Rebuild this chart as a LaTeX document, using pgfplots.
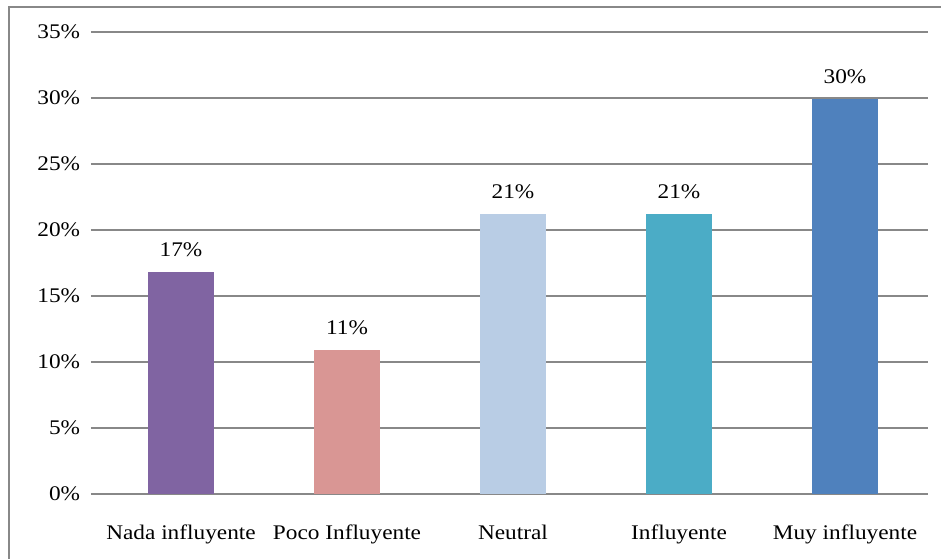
\documentclass[border=0pt]{standalone}
\usepackage{pgfplots}
\pgfplotsset{compat=1.18}
\usepackage{fontspec}
\setmainfont{Liberation Serif}[FakeStretch=1.12]

\definecolor{gridgray}{HTML}{888888}
\definecolor{cPurple}{HTML}{8064A2}
\definecolor{cPink}{HTML}{D99694}
\definecolor{cLight}{HTML}{B9CDE5}
\definecolor{cTeal}{HTML}{4BACC6}
\definecolor{cBlue}{HTML}{4F81BD}

\begin{document}
\begin{tikzpicture}
\fontsize{15.6pt}{18pt}\selectfont
\useasboundingbox (0,0) rectangle (705.75pt,419.25pt);
% frame of the chart area (left and top edges)
\draw[gridgray, line width=1.5pt] (7pt,-2pt) -- (7pt,413.8pt) -- (708pt,413.8pt);
\begin{axis}[
  at={(73.5pt,48.75pt)}, anchor=south west,
  scale only axis, width=622.5pt, height=346.5pt,
  ybar, bar width=49.5pt, bar shift=0pt,
  xmin=-0.5, xmax=4.5, ymin=0, ymax=35,
  axis x line*=bottom, axis y line*=left,
  x axis line style={gridgray, line width=0.9pt, -},
  y axis line style={draw=none},
  xtick={0,1,2,3,4},
  xticklabels={Nada influyente, Poco Influyente, Neutral, Influyente, Muy influyente},
  x tick style={draw=none},
  extra x ticks={0.5,1.5,2.5,3.5,4.5},
  extra x tick labels={},
  extra x tick style={tick align=outside, major tick length=5.25pt,
    tick style={draw=gridgray, line width=0.9pt}},
  xticklabel style={anchor=base, inner sep=0pt, yshift=-29pt},
  ytick={0,5,...,35},
  yticklabels={0\%,5\%,10\%,15\%,20\%,25\%,30\%,35\%},
  y tick style={gridgray, line width=0.9pt},
  tick align=outside, major tick length=5.25pt,
  yticklabel style={anchor=east, inner sep=0pt, xshift=-8pt},
  ymajorgrids, grid style={gridgray, line width=0.9pt},
  nodes near coords={\pgfmathprintnumber[fixed,precision=0,assume math mode=true]{\pgfplotspointmeta}\%},
  nodes near coords style={anchor=base, inner sep=0pt, yshift=12pt, text=black},
  every axis plot/.append style={draw=none},
]
\addplot[fill=cPurple] coordinates {(0,16.8)};
\addplot[fill=cPink]   coordinates {(1,10.9)};
\addplot[fill=cLight]  coordinates {(2,21.2)};
\addplot[fill=cTeal]   coordinates {(3,21.2)};
\addplot[fill=cBlue]   coordinates {(4,29.9)};
\end{axis}
\end{tikzpicture}
\end{document}
